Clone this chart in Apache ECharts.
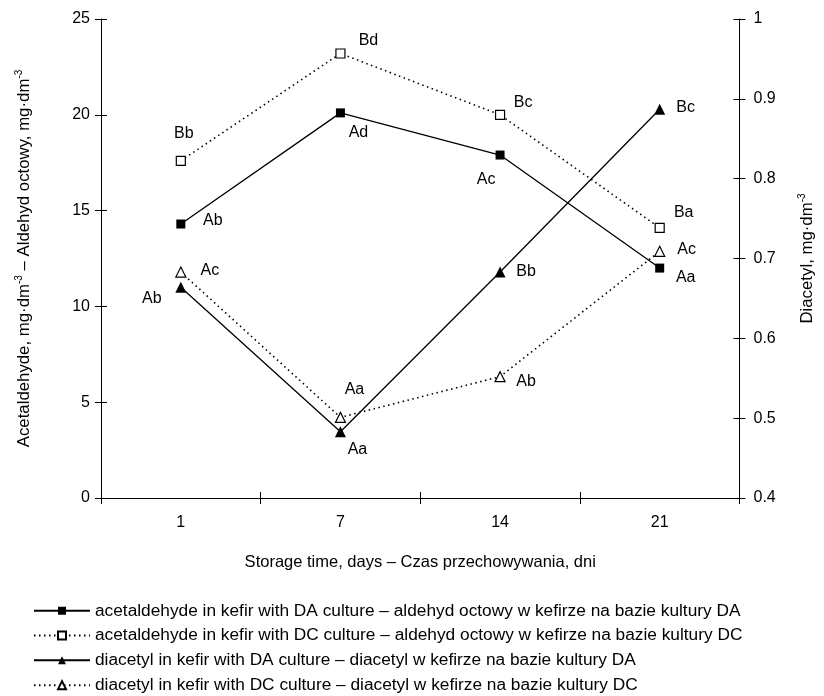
<!DOCTYPE html>
<html>
<head>
<meta charset="utf-8">
<script src="https://cdn.jsdelivr.net/npm/echarts@6/dist/echarts.min.js"></script>
<style>html,body{margin:0;padding:0;background:#fff}#c{width:824px;height:696px}</style>
</head>
<body>
<div id="c"></div>
<script>
// ---- data ----
const days = ['1', '7', '14', '21'];
const acetDA = [14.3, 20.1, 17.9, 12.0];
const acetDC = [17.6, 23.2, 20.0, 14.1];
const diacDA = [0.664, 0.483, 0.683, 0.887];
const diacDC = [0.683, 0.501, 0.552, 0.709];
const acetDALetters = ['Ab', 'Ad', 'Ac', 'Aa'];
const acetDCLetters = ['Bb', 'Bd', 'Bc', 'Ba'];
const diacDALetters = ['Ab', 'Aa', 'Bb', 'Bc'];
const diacDCLetters = ['Ac', 'Aa', 'Ab', 'Ac'];
const leftTicks = [0, 5, 10, 15, 20, 25];
const rightTicks = [0.4, 0.5, 0.6, 0.7, 0.8, 0.9, 1];
const names = [
  'acetaldehyde in kefir with DA culture – aldehyd octowy w kefirze na bazie kultury DA',
  'acetaldehyde in kefir with DC culture – aldehyd octowy w kefirze na bazie kultury DC',
  'diacetyl in kefir with DA culture – diacetyl w kefirze na bazie kultury DA',
  'diacetyl in kefir with DC culture – diacetyl w kefirze na bazie kultury DC'
];

// ---- label placement (style) ----
const offAcetDA = [[32, -3], [18, 20], [-14, 25], [26, 10]];
const offAcetDC = [[3, -27], [28, -13], [23, -12], [24, -15]];
const offDiacDA = [[-29, 11], [17, 18], [26, 0], [26, -2]];
const offDiacDC = [[29, -1], [14, -28], [26, 5], [27, -2]];

const FONT = 'Liberation Sans, Arial, sans-serif';
const FS = 16;

function mk(values, letters, offs) {
  return values.map((v, i) => ({
    value: v,
    label: { show: true, formatter: letters[i], position: 'inside', offset: offs[i] }
  }));
}

const labelBase = { show: true, color: '#000', fontFamily: FONT, fontSize: FS };
const axisLine = { show: true, lineStyle: { color: '#000', width: 1 } };
const sup = { fontSize: 10, fontFamily: FONT, color: '#000', padding: [0, 0, 10, 0] };

const chart = echarts.init(document.getElementById('c'), null, { renderer: 'canvas' });
chart.setOption({
  backgroundColor: '#fff',
  animation: false,
  textStyle: { fontFamily: FONT, color: '#000' },
  grid: { left: 101, right: 79, top: 19, bottom: 198 },
  legend: {
    orient: 'vertical', left: 28, top: 597, height: 160, width: 790,
    itemWidth: 56, itemHeight: 10, itemGap: 7.3,
    textStyle: { fontFamily: FONT, fontSize: 17.3, lineHeight: 17.5, color: '#000' },
    data: names
  },
  xAxis: [{
    type: 'category', data: days, position: 'bottom',
    axisLine: axisLine,
    axisTick: { show: true, length: 6, lineStyle: { color: '#000' } },
    axisLabel: { color: '#000', fontSize: FS, fontFamily: FONT, margin: 17 },
    name: 'Storage time, days – Czas przechowywania, dni',
    nameLocation: 'middle', nameGap: 56,
    nameTextStyle: { color: '#000', fontSize: 16.5, fontFamily: FONT },
    splitLine: { show: false }
  }, {
    type: 'category', data: days, position: 'bottom',
    axisLine: { show: false },
    axisTick: { show: true, inside: true, length: 6, lineStyle: { color: '#000' } },
    axisLabel: { show: false }, splitLine: { show: false }
  }],
  yAxis: [{
    type: 'value', min: 0, max: 25, interval: 5, position: 'left',
    axisLine: axisLine,
    axisTick: { show: true, length: 6, lineStyle: { color: '#000' } },
    axisLabel: { color: '#000', fontSize: FS, fontFamily: FONT, margin: 11,
      formatter: v => leftTicks.includes(v) ? String(v) : '' },
    splitLine: { show: false },
    name: 'Acetaldehyde, mg·dm{s|-3} – Aldehyd octowy, mg·dm{s|-3}',
    nameLocation: 'middle', nameGap: 67, nameRotate: 90,
    nameTextStyle: { color: '#000', fontSize: 16.8, fontFamily: FONT, rich: { s: sup } }
  }, {
    type: 'value', min: 0.4, max: 1, interval: 0.1, position: 'right',
    axisLine: axisLine,
    axisTick: { show: true, length: 6, lineStyle: { color: '#000' } },
    axisLabel: { color: '#000', fontSize: FS, fontFamily: FONT, margin: 14,
      formatter: v => { const r = Math.round(v * 10) / 10; return rightTicks.includes(r) ? String(r) : ''; } },
    splitLine: { show: false },
    name: 'Diacetyl, mg·dm{s|-3}',
    nameLocation: 'middle', nameGap: 58, nameRotate: 90,
    nameTextStyle: { color: '#000', fontSize: 16.8, fontFamily: FONT, rich: { s: sup } }
  }, {
    type: 'value', min: 0, max: 25, interval: 5, position: 'left',
    axisLine: { show: false },
    axisTick: { show: true, inside: true, length: 6, lineStyle: { color: '#000' } },
    axisLabel: { show: false }, splitLine: { show: false }
  }, {
    type: 'value', min: 0.4, max: 1, interval: 0.1, position: 'right',
    axisLine: { show: false },
    axisTick: { show: true, inside: true, length: 6, lineStyle: { color: '#000' } },
    axisLabel: { show: false }, splitLine: { show: false }
  }],
  series: [{
    name: names[0], type: 'line', yAxisIndex: 0,
    data: mk(acetDA, acetDALetters, offAcetDA),
    symbol: 'rect', symbolSize: 9,
    itemStyle: { color: '#000' },
    lineStyle: { color: '#000', width: 1.3, type: 'solid' },
    label: labelBase, z: 3
  }, {
    name: names[1], type: 'line', yAxisIndex: 0,
    data: mk(acetDC, acetDCLetters, offAcetDC),
    symbol: 'rect', symbolSize: 9,
    itemStyle: { color: '#fff', borderColor: '#000', borderWidth: 1.2 },
    lineStyle: { color: '#000', width: 1.6, type: [1.5, 3.5] },
    label: labelBase, z: 3
  }, {
    name: names[2], type: 'line', yAxisIndex: 1,
    data: mk(diacDA, diacDALetters, offDiacDA),
    symbol: 'triangle', symbolSize: 11,
    itemStyle: { color: '#000' },
    lineStyle: { color: '#000', width: 1.3, type: 'solid' },
    label: labelBase, z: 3
  }, {
    name: names[3], type: 'line', yAxisIndex: 1,
    data: mk(diacDC, diacDCLetters, offDiacDC),
    symbol: 'triangle', symbolSize: 10,
    itemStyle: { color: '#fff', borderColor: '#000', borderWidth: 1.2 },
    lineStyle: { color: '#000', width: 1.6, type: [1.5, 3.5] },
    label: labelBase, z: 3
  }]
});
</script>
</body>
</html>
